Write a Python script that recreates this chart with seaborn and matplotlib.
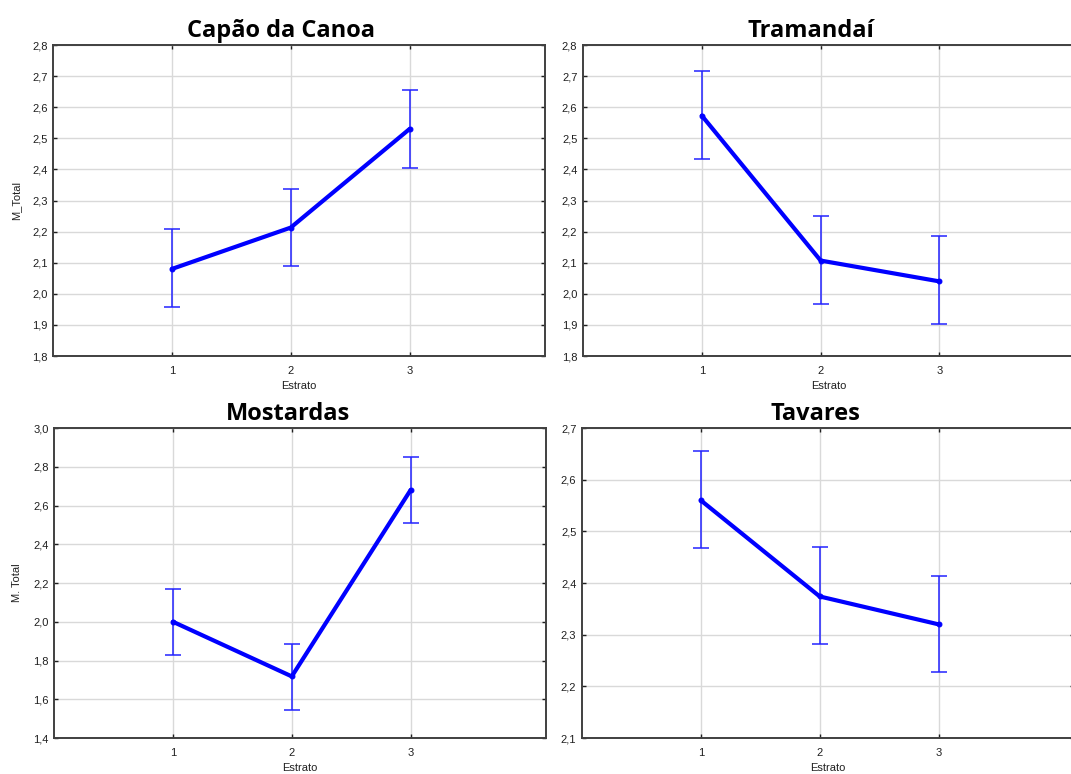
import matplotlib
matplotlib.use('Agg')
import matplotlib.pyplot as plt
import seaborn as sns
import numpy as np

sns.set_theme(style="white")
plt.rcParams['font.family'] = ['Liberation Sans', 'DejaVu Sans']

estrato = [1, 2, 3]

# means and confidence limits per municipality
capao_mean = [2.08, 2.213, 2.53]
capao_low = [1.958, 2.088, 2.404]
capao_high = [2.208, 2.338, 2.657]

tram_mean = [2.573, 2.107, 2.04]
tram_low = [2.432, 1.968, 1.904]
tram_high = [2.715, 2.25, 2.185]

most_mean = [2.0, 1.718, 2.68]
most_low = [1.83, 1.545, 2.51]
most_high = [2.17, 1.886, 2.85]

tav_mean = [2.56, 2.374, 2.32]
tav_low = [2.467, 2.281, 2.227]
tav_high = [2.655, 2.469, 2.414]

panels = [
    ("Capão da Canoa", capao_mean, capao_low, capao_high, "M_Total", (1.8, 2.8), 0.1),
    ("Tramandaí", tram_mean, tram_low, tram_high, "", (1.8, 2.8), 0.1),
    ("Mostardas", most_mean, most_low, most_high, "M. Total", (1.4, 3.0), 0.2),
    ("Tavares", tav_mean, tav_low, tav_high, "", (2.1, 2.7), 0.1),
]

positions = [
    [0.0495, 0.540, 0.4594, 0.4018],
    [0.5443, 0.540, 0.4594, 0.4018],
    [0.0505, 0.0465, 0.4594, 0.4005],
    [0.5434, 0.0465, 0.4594, 0.4005],
]
title_x = [0.463, 0.463, 0.475, 0.475]

fig = plt.figure(figsize=(10.71, 7.74), dpi=100)

for (title, mean, low, high, ylab, ylim, step), pos, tx in zip(panels, positions, title_x):
    ax = fig.add_axes(pos)
    mean = np.array(mean)
    yerr = [mean - np.array(low), np.array(high) - mean]
    ax.errorbar(estrato, mean, yerr=yerr, fmt='none', ecolor='#2323ff',
                elinewidth=1.1, capsize=6, capthick=1.1, zorder=3)
    sns.lineplot(x=estrato, y=mean, ax=ax, color='#0000ff', linewidth=3,
                 marker='o', markersize=3.5, markeredgecolor='#0000ff', zorder=4)
    ax.set_xlim(0, 4.14)
    ax.set_ylim(*ylim)
    ax.set_xticks(estrato)
    ax.set_xticklabels([str(e) for e in estrato])
    yt = np.round(np.arange(ylim[0], ylim[1] + step / 2, step), 2)
    ax.set_yticks(yt)
    ax.set_yticklabels([f"{v:.1f}".replace('.', ',') for v in yt])
    ax.grid(True, color='#d9d9d9', linewidth=1)
    ax.set_axisbelow(True)
    for sp in ax.spines.values():
        sp.set_color('#404040')
        sp.set_linewidth(1.4)
    ax.tick_params(direction='in', length=3, width=1, colors='#202020',
                   labelsize=8, right=True, top=True, left=True, bottom=True)
    ax.tick_params(axis='x', pad=7)
    ax.tick_params(axis='y', pad=4)
    ax.set_title(title, fontsize=17, fontweight='bold', family=['Open Sans', 'DejaVu Sans'],
                 color='black', pad=6, x=tx)
    ax.set_xlabel("Estrato", fontsize=8, color='#202020', labelpad=4)
    ax.set_ylabel(ylab, fontsize=8, color='#202020', labelpad=8)

fig.savefig('out.png', dpi=100)
